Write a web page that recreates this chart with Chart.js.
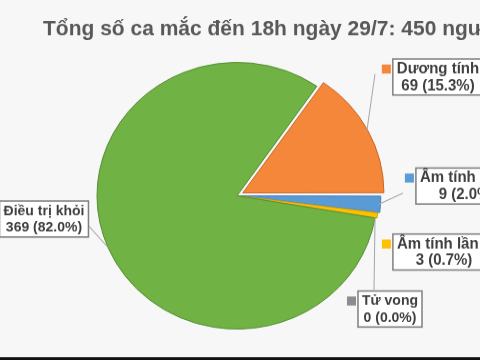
<!DOCTYPE html>
<html>
<head>
<meta charset="utf-8">
<script src="https://cdn.jsdelivr.net/npm/chart.js@4"></script>
<style>
  html, body { margin: 0; padding: 0; background: #f7f7f7; overflow: hidden; }
  #pieChart { display: block; }
</style>
</head>
<body>
<!-- ảnh gốc bị kéo giãn ngang, nên vẽ cao hơn rồi ép lại bằng CSS -->
<canvas id="pieChart" width="480" height="378" style="width:480px;height:360px"></canvas>
<script>
const title = "Tổng số ca mắc đến 18h ngày 29/7: 450 người";
const categories = ["Dương tính", "Âm tính lần 1", "Âm tính lần 2", "Tử vong", "Điều trị khỏi"];
const cases = [69, 9, 3, 0, 369];

const sliceColors = ["#f5873a", "#5b9bd5", "#ffc000", "#8c8c8c", "#70b244"];
const sliceBorders = ["#c9692a", "#3f7fb8", "#d9a300", "#707070", "#568f33"];
const sliceOffsets = [26, 8, 4, 0, 0];

// hộp nhãn (toạ độ hiển thị): tâm hộp, cỡ chữ, điểm cuối đường dẫn
const labelBoxes = [
    { cx: 438, cy: 77, size: 15, lineTo: [375, 74] },
    { cx: 467, cy: 186, size: 15, lineTo: [403, 193] },
    { cx: 444, cy: 252, size: 15, lineTo: null },
    { cx: 390, cy: 309, size: 14, lineTo: [374, 290] },
    { cx: 44, cy: 219, size: 14, lineTo: [78, 214] }
];

const fontFamily = '"Liberation Sans", Arial, sans-serif';
const squash = 378 / 360;

const calloutPlugin = {
    id: 'callouts',
    beforeDraw(chart) {
        const ctx = chart.ctx;
        ctx.save();
        ctx.fillStyle = '#f7f7f7';
        ctx.fillRect(0, 0, chart.width, chart.height);
        ctx.fillStyle = '#111111';
        ctx.fillRect(0, chart.height - 3, chart.width, 3);
        ctx.restore();
    },
    afterDatasetsDraw(chart) {
        const ctx = chart.ctx;
        const meta = chart.getDatasetMeta(0);
        const total = cases.reduce((a, b) => a + b, 0);
        ctx.save();
        ctx.scale(1, squash);

        // tiêu đề
        ctx.font = 'bold 21px ' + fontFamily;
        ctx.fillStyle = '#595959';
        ctx.textAlign = 'left';
        ctx.textBaseline = 'alphabetic';
        ctx.fillText(title, 43, 35);

        // đường dẫn
        ctx.strokeStyle = '#a6a6a6';
        ctx.lineWidth = 1;
        meta.data.forEach((arc, i) => {
            const box = labelBoxes[i];
            if (!box.lineTo) return;
            const p = arc.getProps(['x', 'y', 'startAngle', 'endAngle', 'outerRadius'], true);
            const mid = (p.startAngle + p.endAngle) / 2;
            const r = p.outerRadius + sliceOffsets[i] / 4;
            ctx.beginPath();
            ctx.moveTo(p.x + Math.cos(mid) * r, (p.y + Math.sin(mid) * r) / squash);
            ctx.lineTo(box.lineTo[0], box.lineTo[1]);
            ctx.stroke();
        });

        // hộp nhãn
        categories.forEach((name, i) => {
            const box = labelBoxes[i];
            const lines = [name, cases[i] + ' (' + (cases[i] / total * 100).toFixed(1) + '%)'];
            ctx.font = 'bold ' + box.size + 'px ' + fontFamily;
            const w = Math.max(...lines.map(l => ctx.measureText(l).width)) + 8;
            const h = 36;
            const left = box.cx - w / 2;
            const top = box.cy - h / 2;
            ctx.fillStyle = '#ffffff';
            ctx.fillRect(left, top, w, h);
            ctx.strokeStyle = '#7f7f7f';
            ctx.lineWidth = 1.5;
            ctx.strokeRect(left, top, w, h);

            ctx.fillStyle = sliceColors[i];
            ctx.fillRect(left - 11, box.cy - 8 - 4.5, 9, 9);

            ctx.fillStyle = '#404040';
            ctx.textAlign = 'center';
            ctx.textBaseline = 'middle';
            ctx.fillText(lines[0], box.cx, box.cy - 8);
            ctx.fillText(lines[1], box.cx, box.cy + 9);
        });
        ctx.restore();
    }
};

const ctx = document.getElementById('pieChart').getContext('2d');
const totalCases = cases.reduce((a, b) => a + b, 0);

new Chart(ctx, {
    type: 'pie',
    data: {
        labels: categories,
        datasets: [{
            data: cases,
            backgroundColor: sliceColors,
            borderColor: sliceBorders,
            borderWidth: 1,
            offset: sliceOffsets
        }]
    },
    options: {
        responsive: false,
        animation: false,
        radius: 140,
        // lát đầu tiên kết thúc ở hướng 3 giờ
        rotation: 90 - 360 * cases[0] / totalCases,
        layout: { padding: { left: 0, right: 6, top: 33, bottom: 0 } },
        plugins: {
            legend: { display: false },
            tooltip: { enabled: false },
            title: { display: false }
        }
    },
    plugins: [calloutPlugin]
});
</script>
</body>
</html>
